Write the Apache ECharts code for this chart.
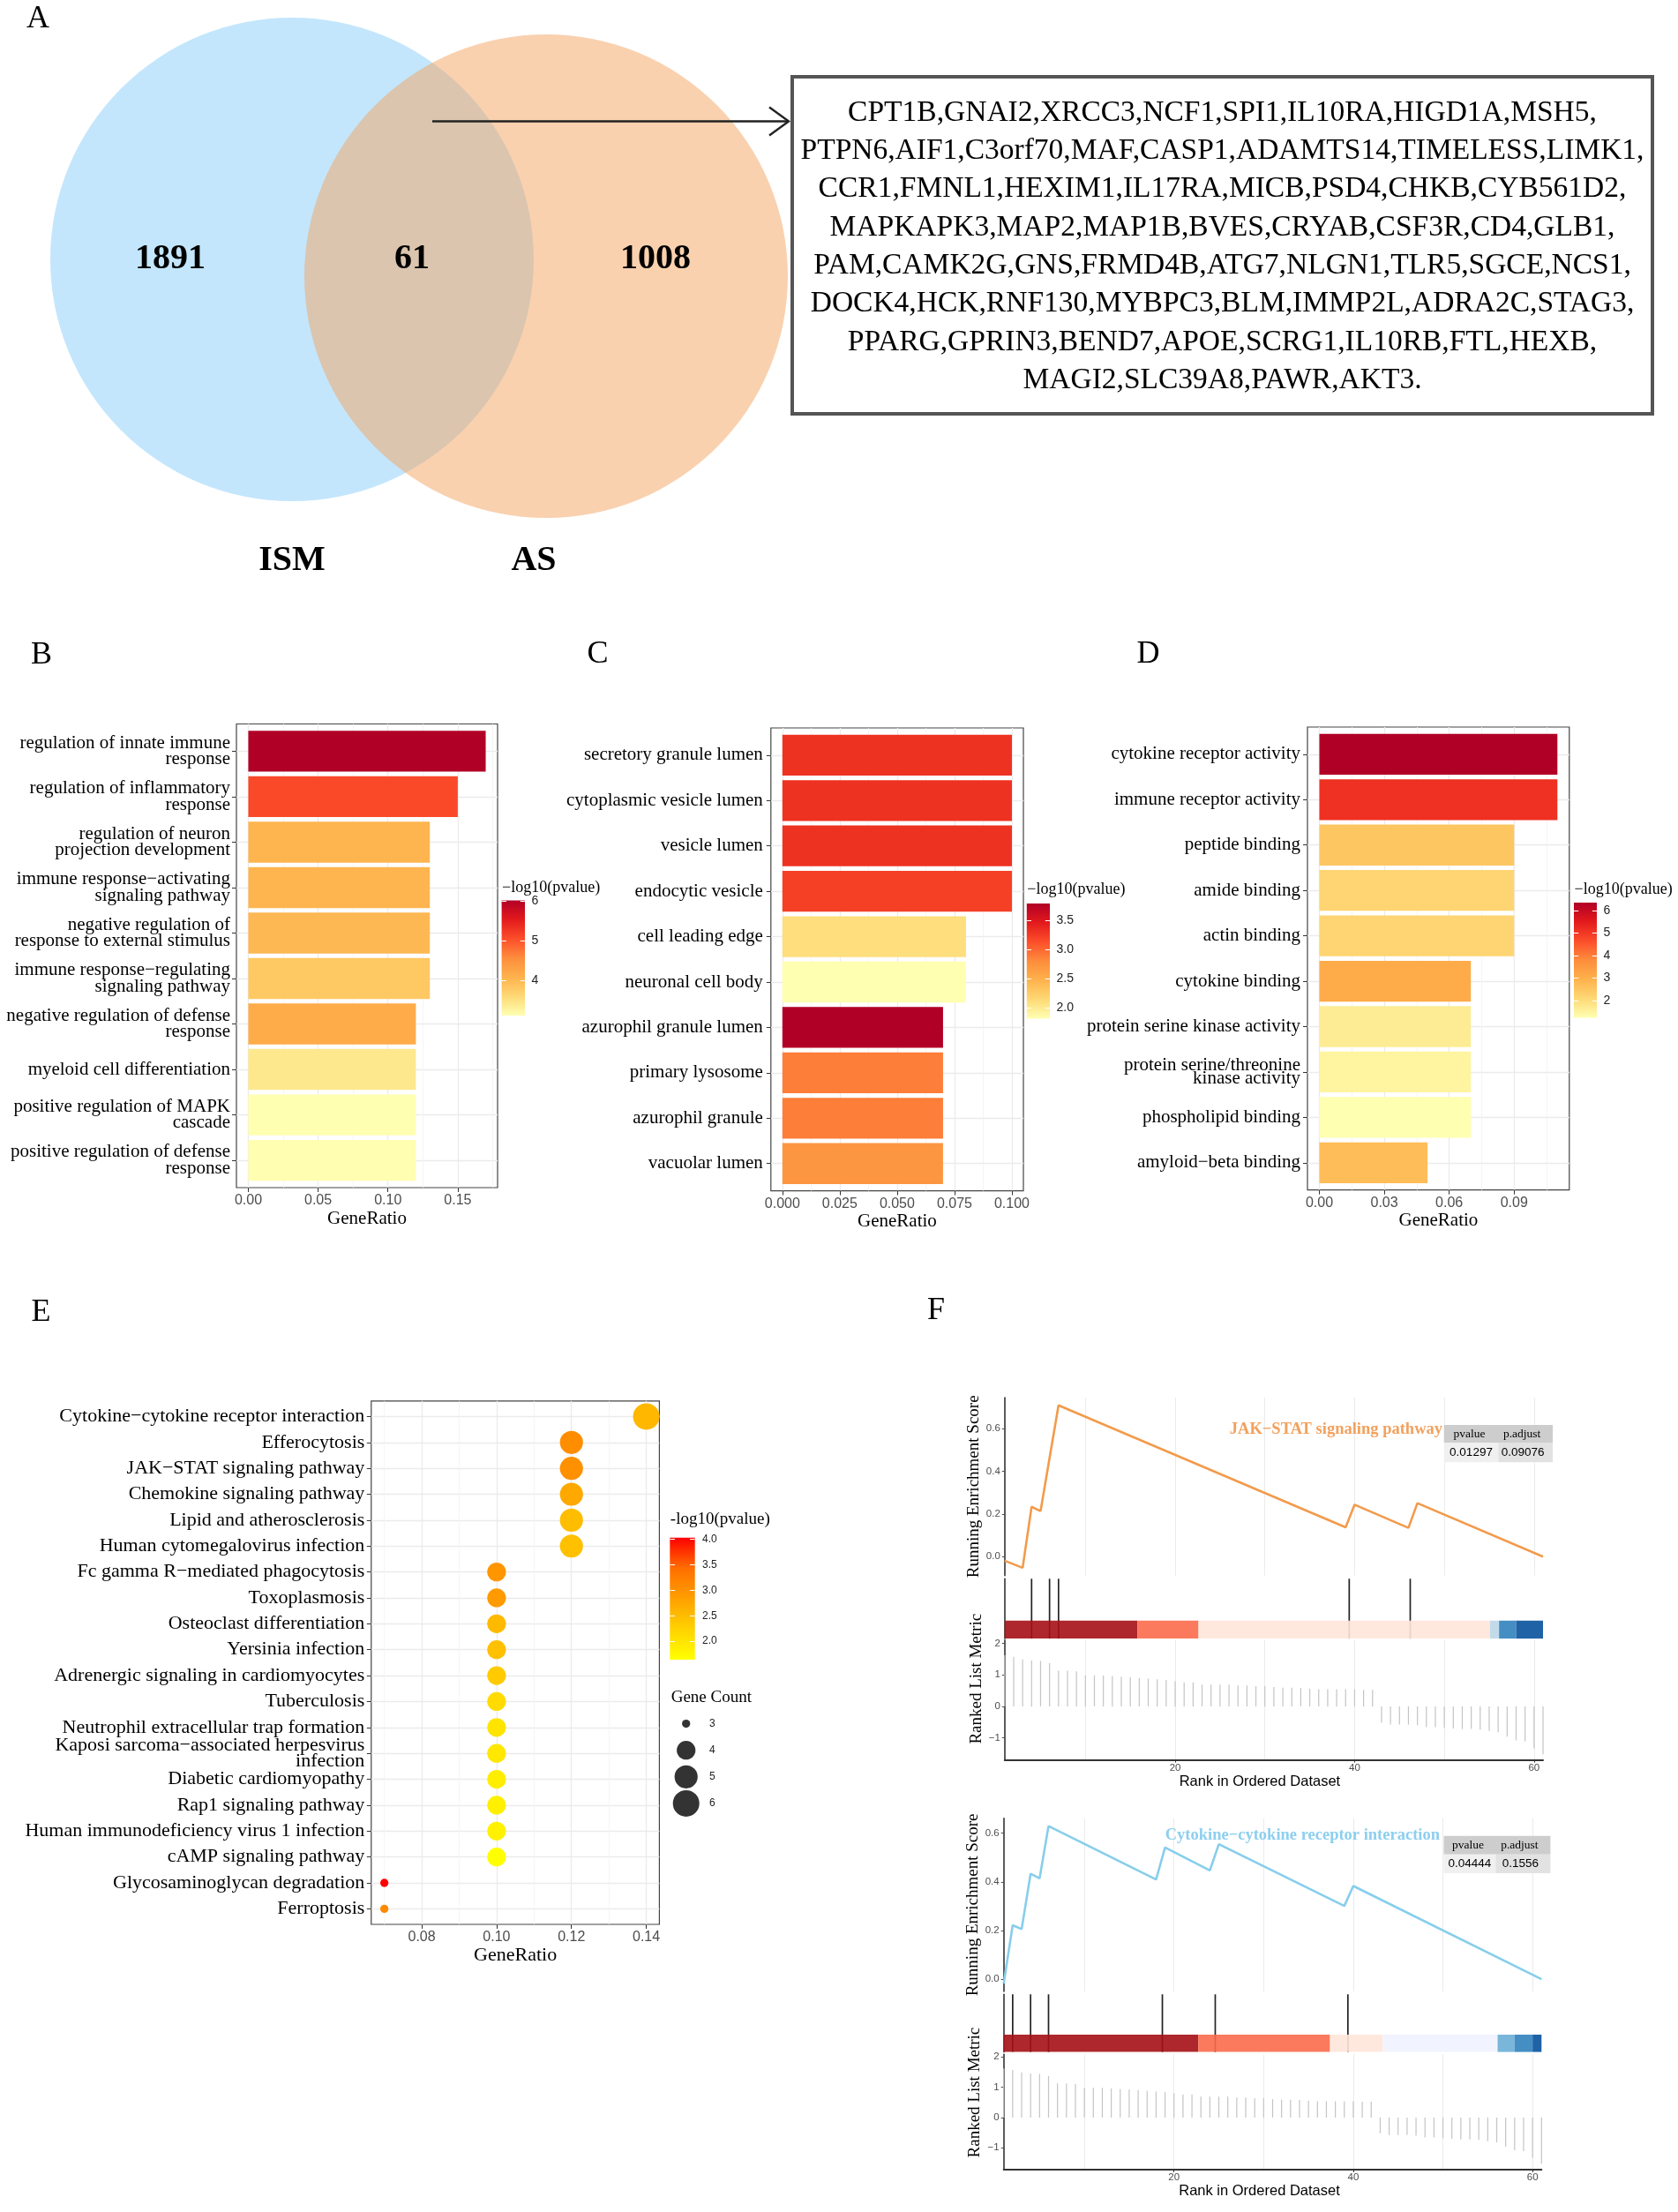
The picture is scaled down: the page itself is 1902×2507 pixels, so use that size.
<!DOCTYPE html>
<html><head><meta charset="utf-8">
<script src="https://cdn.jsdelivr.net/npm/echarts@6/dist/echarts.min.js"></script>
<style>html,body{margin:0;padding:0;background:#fff}#c{width:1902px;height:2507px}</style>
</head><body><div id="c"></div>
<script>
const SERIF = "'Liberation Serif','Times New Roman',serif";
const SANS = "'Liberation Sans',Arial,sans-serif";

// ---------- A: Venn ----------
const vennSets = ['ISM', 'AS'];
const vennCounts = [1891, 61, 1008]; // ISM only, shared, AS only
const overlapGenes = ['CPT1B','GNAI2','XRCC3','NCF1','SPI1','IL10RA','HIGD1A','MSH5',
 'PTPN6','AIF1','C3orf70','MAF','CASP1','ADAMTS14','TIMELESS','LIMK1',
 'CCR1','FMNL1','HEXIM1','IL17RA','MICB','PSD4','CHKB','CYB561D2',
 'MAPKAPK3','MAP2','MAP1B','BVES','CRYAB','CSF3R','CD4','GLB1',
 'PAM','CAMK2G','GNS','FRMD4B','ATG7','NLGN1','TLR5','SGCE','NCS1',
 'DOCK4','HCK','RNF130','MYBPC3','BLM','IMMP2L','ADRA2C','STAG3',
 'PPARG','GPRIN3','BEND7','APOE','SCRG1','IL10RB','FTL','HEXB',
 'MAGI2','SLC39A8','PAWR','AKT3'];
const geneLineLengths = [8, 8, 8, 8, 9, 8, 8, 4];

// ---------- B: GO BP ----------
const bpTerms = ['regulation of innate immune response','regulation of inflammatory response',
 'regulation of neuron projection development','immune response\u2212activating signaling pathway',
 'negative regulation of response to external stimulus','immune response\u2212regulating signaling pathway',
 'negative regulation of defense response','myeloid cell differentiation',
 'positive regulation of MAPK cascade','positive regulation of defense response'];
const bpRatio = [0.17, 0.15, 0.13, 0.13, 0.13, 0.13, 0.12, 0.12, 0.12, 0.12];
const bpLogP = [6.02, 5.10, 4.04, 4.04, 4.00, 3.81, 4.17, 3.40, 3.11, 3.12];
const bpTicks = [0, 0.05, 0.10, 0.15];
const bpLegendTicks = [4, 5, 6];

// ---------- C: GO CC ----------
const ccTerms = ['secretory granule lumen','cytoplasmic vesicle lumen','vesicle lumen','endocytic vesicle',
 'cell leading edge','neuronal cell body','azurophil granule lumen','primary lysosome','azurophil granule','vacuolar lumen'];
const ccRatio = [0.10, 0.10, 0.10, 0.10, 0.08, 0.08, 0.07, 0.07, 0.07, 0.07];
const ccLogP = [3.31, 3.31, 3.31, 3.22, 2.10, 1.81, 3.79, 2.88, 2.88, 2.72];
const ccTicks = [0, 0.025, 0.05, 0.075, 0.10];
const ccLegendTicks = [2.0, 2.5, 3.0, 3.5];

// ---------- D: GO MF ----------
const mfTerms = ['cytokine receptor activity','immune receptor activity','peptide binding','amide binding',
 'actin binding','cytokine binding','protein serine kinase activity','protein serine/threonine kinase activity',
 'phospholipid binding','amyloid\u2212beta binding'];
const mfRatio = [0.11, 0.11, 0.09, 0.09, 0.09, 0.07, 0.07, 0.07, 0.07, 0.05];
const mfLogP = [6.35, 5.12, 2.50, 2.17, 2.17, 3.10, 1.66, 1.48, 1.23, 2.69];
const mfTicks = [0, 0.03, 0.06, 0.09];
const mfLegendTicks = [2, 3, 4, 5, 6];

// ---------- E: KEGG ----------
const keggTerms = ['Cytokine\u2212cytokine receptor interaction','Efferocytosis','JAK\u2212STAT signaling pathway',
 'Chemokine signaling pathway','Lipid and atherosclerosis','Human cytomegalovirus infection',
 'Fc gamma R\u2212mediated phagocytosis','Toxoplasmosis','Osteoclast differentiation','Yersinia infection',
 'Adrenergic signaling in cardiomyocytes','Tuberculosis','Neutrophil extracellular trap formation',
 'Kaposi sarcoma\u2212associated herpesvirus infection','Diabetic cardiomyopathy','Rap1 signaling pathway',
 'Human immunodeficiency virus 1 infection','cAMP signaling pathway','Glycosaminoglycan degradation','Ferroptosis'];
const keggRatio = [0.14, 0.12, 0.12, 0.12, 0.12, 0.12, 0.10, 0.10, 0.10, 0.10, 0.10, 0.10, 0.10, 0.10, 0.10, 0.10, 0.10, 0.10, 0.07, 0.07];
const keggLogP = [2.56, 3.06, 3.03, 2.74, 2.49, 2.45, 2.95, 2.91, 2.52, 2.45, 2.32, 2.12, 2.00, 1.96, 1.86, 1.84, 1.83, 1.64, 4.03, 3.10];
const keggCount = [6, 5, 5, 5, 5, 5, 4, 4, 4, 4, 4, 4, 4, 4, 4, 4, 4, 4, 3, 3];
const keggTicks = [0.08, 0.10, 0.12, 0.14];
const keggLegendTicks = [2.0, 2.5, 3.0, 3.5, 4.0];
const countLegend = [3, 4, 5, 6];

// ---------- F: GSEA ----------
const rankMetric = [1.62,1.57,1.49,1.45,1.44,1.37,1.13,1.13,1.11,0.98,
 0.98,0.98,0.96,0.94,0.92,0.90,0.88,0.86,0.84,0.80,
 0.76,0.76,0.69,0.69,0.69,0.69,0.66,0.66,0.64,0.64,
 0.61,0.59,0.59,0.58,0.56,0.54,0.54,0.54,0.54,0.54,
 0.52,0.52,-0.52,-0.58,-0.58,-0.58,-0.60,-0.66,-0.66,-0.68,
 -0.70,-0.72,-0.72,-0.74,-0.78,-0.82,-0.96,-1.08,-1.11,-1.33,-1.52];
const rankTicks = [20, 40, 60];
const gs1Name = 'JAK\u2212STAT signaling pathway';
const gs1EsRank = [1, 3, 4, 5, 7, 39, 40, 46, 47, 61];
const gs1EsValue = [-0.019, -0.052, 0.234, 0.214, 0.710, 0.138, 0.244, 0.135, 0.251, 0.0];
const gs1Hits = [4, 6, 7, 39.4, 46.2];
const gs1BandEdges = [1, 15.8, 22.6, 55.1, 56.1, 58, 61];
const gs1BandClass = [9, 7, 5, 3, 1, 0];
const gs1Stats = ['0.01297', '0.09076'];
const gs2Name = 'Cytokine\u2212cytokine receptor interaction';
const gs2EsRank = [1, 2, 3, 4, 5, 6, 18, 19, 24, 25, 39, 40, 61];
const gs2EsValue = [-0.018, 0.222, 0.206, 0.433, 0.414, 0.629, 0.410, 0.541, 0.447, 0.555, 0.301, 0.383, 0.0];
const gs2Hits = [2, 4, 6, 18.7, 24.6, 39.4];
const gs2BandEdges = [1, 22.7, 37.4, 43.3, 56.1, 58, 60, 61];
const gs2BandClass = [9, 7, 5, 4, 2, 1, 0];
const gs2Stats = ['0.04444', '0.1556'];
const statHeader = ['pvalue', 'p.adjust'];

// ---------- styles ----------
const YLORRD = ['#FFFFB2','#FED976','#FEB24C','#FD8D3C','#FC4E2A','#E31A1C','#B10026'];
const YELRED = ['#FFFF00','#FFD200','#FFA000','#FF6E00','#FF0000'];
const RDBU10 = ['#08519C','#3182BD','#6BAED6','#BDD7E7','#EFF3FF','#FEE5D9','#FCAE91','#FB6A4A','#DE2D26','#A50F15'];

const grids = [], xAxes = [], yAxes = [], series = [], visualMaps = [], graphics = [];

function wrapLabel(s, w) {
  const words = s.split(' '); const lines = []; let cur = '';
  for (const wd of words) {
    if (!cur) cur = wd;
    else if ((cur + ' ' + wd).length <= w) cur += ' ' + wd;
    else { lines.push(cur); cur = wd; }
  }
  if (cur) lines.push(cur);
  return lines.join('\n');
}
function gText(x, y, text, o) {
  graphics.push({type: 'text', x, y, z: 100, silent: true,
    style: Object.assign({text, fill: '#000', fontFamily: SERIF, fontSize: 20, align: 'left', verticalAlign: 'middle'}, o)});
}
function addGrid(g) { grids.push(g); return grids.length - 1; }
function midpoints(t) { const r = []; const step = t[1] - t[0]; for (let i = 0; i < t.length; i++) r.push(+(t[i] - step / 2).toFixed(6), +(t[i] + step / 2).toFixed(6)); return Array.from(new Set(r)); }

function colorbar(o) {
  const gi = addGrid({left: o.left, top: o.top, width: o.width, height: o.height});
  const xi = xAxes.length;
  xAxes.push({type: 'value', gridIndex: gi, min: 0, max: 1, show: false});
  const yi = yAxes.length;
  const tickLen = o.width / 5;
  yAxes.push({type: 'value', gridIndex: gi, min: o.min, max: o.max, position: 'right', z: 10,
    axisLine: {show: false},
    axisTick: {show: true, inside: true, length: tickLen, customValues: o.ticks, lineStyle: {color: '#fff', width: 1}},
    axisLabel: {customValues: o.ticks, formatter: v => v.toFixed(o.dec), color: '#222', fontFamily: SANS, fontSize: o.fs, margin: o.margin},
    splitLine: {show: false}});
  yAxes.push({type: 'value', gridIndex: gi, min: o.min, max: o.max, position: 'left', z: 10,
    axisLine: {show: false},
    axisTick: {show: true, inside: true, length: tickLen, customValues: o.ticks, lineStyle: {color: '#fff', width: 1}},
    axisLabel: {show: false}, splitLine: {show: false}});
  const stops = o.colors.map((c, i) => ({offset: i / (o.colors.length - 1), color: c}));
  series.push({type: 'custom', xAxisIndex: xi, yAxisIndex: yi, silent: true, z: 1,
    data: [[0, o.min], [1, o.max]], encode: {x: 0, y: 1},
    renderItem: (p, api) => {
      if (p.dataIndex !== 0) return null;
      const a = api.coord([0, o.min]), b = api.coord([1, o.max]);
      return {type: 'rect', shape: {x: a[0], y: b[1], width: b[0] - a[0], height: a[1] - b[1]},
        style: {fill: {type: 'linear', x: 0, y: 1, x2: 0, y2: 0, colorStops: stops}}};
    }});
  gText(o.left + 0.5, o.titleY, o.title, {fontSize: o.titleFs});
}

function termAxis(gi, terms, o) {
  const n = terms.length; const ticks = terms.map((_, i) => i + 1);
  return {type: 'value', gridIndex: gi, inverse: true, min: 0.4, max: n + 0.6,
    axisLine: {show: false},
    axisTick: {show: true, length: 5, customValues: ticks, lineStyle: {color: '#333', width: 1}},
    axisLabel: {customValues: ticks, formatter: v => wrapLabel(terms[Math.round(v) - 1], o.wrap), color: '#000',
      fontFamily: SERIF, fontSize: o.fs, lineHeight: o.lh, margin: o.margin, align: 'right'},
    splitLine: {show: true, lineStyle: {color: '#EBEBEB', width: 1.3}}};
}
function ratioAxes(gi, o) {
  xAxes.push({type: 'value', gridIndex: gi, min: o.xmin, max: o.xmax, position: 'bottom',
    axisLine: {show: false},
    axisTick: {show: true, length: 5, customValues: o.ticks, lineStyle: {color: '#333', width: 1}},
    axisLabel: {customValues: o.ticks, formatter: v => v.toFixed(o.dec), color: '#4D4D4D', fontFamily: SANS, fontSize: 16, margin: o.labelMargin},
    splitLine: {show: true, lineStyle: {color: '#EBEBEB', width: 1.3}},
    name: 'GeneRatio', nameLocation: 'middle', nameGap: o.nameGap,
    nameTextStyle: {fontFamily: SERIF, fontSize: o.nameFs, color: '#000'}});
  xAxes.push({type: 'value', gridIndex: gi, min: o.xmin, max: o.xmax, position: 'bottom',
    axisLine: {show: false}, axisTick: {show: false, customValues: o.minor}, axisLabel: {show: false},
    splitLine: {show: true, lineStyle: {color: '#F3F3F3', width: 0.8}}});
}

function barRender(params, api) {
  const x = api.value(0), y = api.value(1);
  const a = api.coord([0, y - 0.45]), b = api.coord([x, y + 0.45]);
  return {type: 'rect', shape: {x: a[0], y: Math.min(a[1], b[1]), width: b[0] - a[0], height: Math.abs(b[1] - a[1])},
    style: {fill: api.visual('color')}};
}

function barPanel(o) {
  const gi = addGrid({left: o.left, top: o.top, width: o.width, height: o.height, show: true, borderColor: '#444', borderWidth: 1.2});
  const xi = xAxes.length;
  ratioAxes(gi, {xmin: o.xmin, xmax: o.xmax, ticks: o.ticks, minor: midpoints(o.ticks).filter(v => v > o.xmin && v < o.xmax), dec: o.dec, labelMargin: 7, nameGap: o.nameGap, nameFs: 21});
  const yi = yAxes.length;
  yAxes.push(termAxis(gi, o.terms, {wrap: 30, fs: 21, lh: o.lh, margin: o.margin}));
  const pmin = Math.min(...o.logp), pmax = Math.max(...o.logp);
  const si = series.length;
  series.push({type: 'custom', xAxisIndex: xi, yAxisIndex: yi, silent: true, z: 3,
    data: o.ratio.map((r, i) => [r, i + 1, o.logp[i]]), encode: {x: 0, y: 1}, renderItem: barRender});
  visualMaps.push({type: 'continuous', show: false, seriesIndex: si, dimension: 2, min: pmin, max: pmax, inRange: {color: YLORRD}});
  colorbar({left: o.cb[0], top: o.cb[1], width: o.cb[2], height: o.cb[3], min: pmin, max: pmax, ticks: o.legendTicks,
    dec: o.legendDec, fs: 14, margin: 7.5, colors: YLORRD, title: '\u2212log10(pvalue)', titleY: o.titleY, titleFs: 18});
}

// ---------- build B, C, D ----------
barPanel({left: 268, top: 820.5, width: 296, height: 525.5, xmin: -0.0085, xmax: 0.1785, ticks: bpTicks, dec: 2,
  terms: bpTerms, ratio: bpRatio, logp: bpLogP, lh: 18.5, margin: 7, nameGap: 24.5,
  cb: [568.6, 1020.5, 26.4, 130.5], legendTicks: bpLegendTicks, legendDec: 0, titleY: 1006});
barPanel({left: 873.8, top: 825, width: 286.2, height: 524.6, xmin: -0.005, xmax: 0.105, ticks: ccTicks, dec: 3,
  terms: ccTerms, ratio: ccRatio, logp: ccLogP, lh: 18.5, margin: 9, nameGap: 22.5,
  cb: [1163.8, 1024, 26.2, 130.5], legendTicks: ccLegendTicks, legendDec: 1, titleY: 1008});
barPanel({left: 1482, top: 824, width: 296.8, height: 524.7, xmin: -0.0055, xmax: 0.1155, ticks: mfTicks, dec: 2,
  terms: mfTerms, ratio: mfRatio, logp: mfLogP, lh: 15, margin: 8, nameGap: 22.5,
  cb: [1784, 1023, 26, 130.6], legendTicks: mfLegendTicks, legendDec: 0, titleY: 1008});

// ---------- build E ----------
const cMin = Math.min(...keggCount), cMax = Math.max(...keggCount);
const geneSize = c => 9.3 + (30 - 9.3) * Math.sqrt((c - cMin) / (cMax - cMin));
{
  const gi = addGrid({left: 420.8, top: 1587.8, width: 326.6, height: 593.2, show: true, borderColor: '#444', borderWidth: 1.2});
  const xi = xAxes.length;
  ratioAxes(gi, {xmin: 0.0665, xmax: 0.1435, ticks: keggTicks, minor: midpoints(keggTicks).filter(v => v > 0.0665 && v < 0.1435), dec: 2, labelMargin: 7, nameGap: 21, nameFs: 22});
  const yi = yAxes.length;
  yAxes.push(termAxis(gi, keggTerms, {wrap: 40, fs: 22, lh: 18, margin: 7.5}));
  const pmin = Math.min(...keggLogP), pmax = Math.max(...keggLogP);
  const si = series.length;
  series.push({type: 'scatter', xAxisIndex: xi, yAxisIndex: yi, silent: true, z: 3,
    data: keggRatio.map((r, i) => [r, i + 1, keggLogP[i], keggCount[i]]),
    symbolSize: v => geneSize(v[3]), itemStyle: {opacity: 1}});
  visualMaps.push({type: 'continuous', show: false, seriesIndex: si, dimension: 2, min: pmin, max: pmax, inRange: {color: YELRED}});
  colorbar({left: 759.3, top: 1742.7, width: 28.4, height: 138.3, min: pmin, max: pmax, ticks: keggLegendTicks, dec: 1,
    fs: 12, margin: 8.3, colors: YELRED, title: '-log10(pvalue)', titleY: 1721.7, titleFs: 19});
  // size legend
  const gs = addGrid({left: 762.5, top: 1938.5, width: 30.4, height: 120.5});
  const sx = xAxes.length;
  xAxes.push({type: 'value', gridIndex: gs, min: -1, max: 1, show: false});
  const sy = yAxes.length;
  yAxes.push({type: 'category', gridIndex: gs, inverse: true, position: 'right', data: countLegend.map(String),
    axisLine: {show: false}, axisTick: {show: false},
    axisLabel: {color: '#222', fontFamily: SANS, fontSize: 12, margin: 11}});
  series.push({type: 'scatter', xAxisIndex: sx, yAxisIndex: sy, silent: true,
    data: countLegend.map((c, i) => [0, i, c]), symbolSize: v => geneSize(v[2]), itemStyle: {color: '#000'}});
  gText(760.7, 1924.3, 'Gene Count', {fontSize: 19});
}

// ---------- build F ----------
function gseaPanel(o) {
  const W = o.width;
  // running ES
  const g1 = addGrid({left: o.left, top: o.esTop, width: W, height: o.esH});
  const x1 = xAxes.length;
  xAxes.push({type: 'value', gridIndex: g1, min: 1, max: 61, axisLine: {show: false},
    axisTick: {show: false, customValues: [10, 20, 30, 40, 50, 60]}, axisLabel: {show: false},
    splitLine: {show: true, lineStyle: {color: '#EBEBEB', width: 1}}});
  const y1 = yAxes.length;
  const esTicks = [0, 0.2, 0.4, 0.6];
  yAxes.push({type: 'value', gridIndex: g1, min: o.esMin, max: o.esMax, position: 'left',
    axisLine: {show: true, lineStyle: {color: '#333', width: 1.6}},
    axisTick: {show: true, length: 3, customValues: esTicks, lineStyle: {color: '#4D4D4D'}},
    axisLabel: {customValues: esTicks, formatter: v => v.toFixed(1), color: '#4D4D4D', fontFamily: SANS, fontSize: 11.5, margin: 5},
    splitLine: {show: false},
    name: 'Running Enrichment Score', nameLocation: 'middle', nameGap: o.nameGap,
    nameTextStyle: {fontFamily: SERIF, fontSize: 19, color: '#000'}});
  series.push({type: 'line', xAxisIndex: x1, yAxisIndex: y1, silent: true, symbol: 'none', z: 4,
    data: o.esRank.map((r, i) => [r, o.esValue[i]]), lineStyle: {color: o.color, width: 2.6}});
  // hits + band
  const g2 = addGrid({left: o.left, top: o.hitTop, width: W, height: o.hitH});
  const x2 = xAxes.length;
  xAxes.push({type: 'value', gridIndex: g2, min: 1, max: 61, show: false});
  const y2 = yAxes.length;
  yAxes.push({type: 'value', gridIndex: g2, min: 0, max: 1, position: 'left',
    axisLine: {show: true, lineStyle: {color: '#333', width: 1.6}}, axisTick: {show: false}, axisLabel: {show: false}, splitLine: {show: false}});
  series.push({type: 'custom', xAxisIndex: x2, yAxisIndex: y2, silent: true, z: 3,
    data: o.hits.map(h => [h, 0]), encode: {x: 0, y: 1},
    renderItem: (p, api) => {
      const a = api.coord([api.value(0), 0]), b = api.coord([api.value(0), 1]);
      return {type: 'line', shape: {x1: a[0], y1: a[1], x2: b[0], y2: b[1]}, style: {stroke: '#222', lineWidth: 1.7}};
    }});
  series.push({type: 'custom', xAxisIndex: x2, yAxisIndex: y2, silent: true, z: 4,
    data: o.bandClass.map((c, i) => [o.bandEdges[i], 0, o.bandEdges[i + 1], c]), encode: {x: 0, y: 1},
    renderItem: (p, api) => {
      const a = api.coord([api.value(0), 0]), b = api.coord([api.value(2), 0.3]);
      return {type: 'rect', shape: {x: a[0], y: b[1], width: b[0] - a[0], height: a[1] - b[1]},
        style: {fill: RDBU10[api.value(3)], opacity: 0.9}};
    }});
  // ranked metric
  const g3 = addGrid({left: o.left, top: o.metTop, width: W, height: o.metH});
  const x3 = xAxes.length;
  xAxes.push({type: 'value', gridIndex: g3, min: 1, max: 61, position: 'bottom',
    axisLine: {show: true, lineStyle: {color: '#333', width: 2}},
    axisTick: {show: true, length: 3, customValues: rankTicks, lineStyle: {color: '#333'}},
    axisLabel: {customValues: rankTicks, color: '#4D4D4D', fontFamily: SANS, fontSize: 11.5, margin: 3},
    splitLine: {show: true, lineStyle: {color: '#EBEBEB', width: 1}},
    name: 'Rank in Ordered Dataset', nameLocation: 'middle', nameGap: o.xNameGap,
    nameTextStyle: {fontFamily: SANS, fontSize: 16.5, color: '#000', padding: [0, o.xNameShift, 0, 0]}});
  xAxes.push({type: 'value', gridIndex: g3, min: 1, max: 61, position: 'bottom', axisLine: {show: false},
    axisTick: {show: false, customValues: [10, 30, 50]}, axisLabel: {show: false},
    splitLine: {show: true, lineStyle: {color: '#EBEBEB', width: 1}}});
  const y3 = yAxes.length;
  const metTicks = [-1, 0, 1, 2];
  yAxes.push({type: 'value', gridIndex: g3, min: o.metMin, max: o.metMax, position: 'left',
    axisLine: {show: true, lineStyle: {color: '#333', width: 1.6}},
    axisTick: {show: true, length: 3, customValues: metTicks, lineStyle: {color: '#4D4D4D'}},
    axisLabel: {customValues: metTicks, formatter: v => String(v).replace('-', '\u2212'), color: '#4D4D4D', fontFamily: SANS, fontSize: 11.5, margin: 5},
    splitLine: {show: false},
    name: 'Ranked List Metric', nameLocation: 'middle', nameGap: o.nameGap,
    nameTextStyle: {fontFamily: SERIF, fontSize: 19, color: '#000', padding: [0, 0, 0, o.metNameShift]}});
  series.push({type: 'custom', xAxisIndex: x3, yAxisIndex: y3, silent: true, z: 3,
    data: rankMetric.map((v, i) => [i + 1, v]), encode: {x: 0, y: 1},
    renderItem: (p, api) => {
      const a = api.coord([api.value(0), 0]), b = api.coord([api.value(0), api.value(1)]);
      return {type: 'line', shape: {x1: a[0], y1: a[1], x2: b[0], y2: b[1]}, style: {stroke: '#C4C4C4', lineWidth: 1.2}};
    }});
  // title + p-value table
  gText(o.titleX, o.titleY, o.name, {align: 'right', fontWeight: 'bold', fontSize: 18.5, fill: o.textColor});
  const t = o.table; // [x, y, w, hHeader, hRow, splitX]
  graphics.push({type: 'rect', z: 99, silent: true, shape: {x: t[0], y: t[1], width: t[2], height: t[3]}, style: {fill: '#CDCDCD'}});
  graphics.push({type: 'rect', z: 99, silent: true, shape: {x: t[0], y: t[1] + t[3], width: t[5] - t[0], height: t[4]}, style: {fill: '#F0F0F0'}});
  graphics.push({type: 'rect', z: 99, silent: true, shape: {x: t[5], y: t[1] + t[3], width: t[0] + t[2] - t[5], height: t[4]}, style: {fill: '#E2E2E2'}});
  const c1 = (t[0] + t[5]) / 2, c2 = (t[5] + t[0] + t[2]) / 2;
  gText(c1 - 2, t[1] + t[3] / 2, statHeader[0], {align: 'center', fontSize: 13.5});
  gText(c2 - 4, t[1] + t[3] / 2, statHeader[1], {align: 'center', fontSize: 13.5});
  gText(c1, t[1] + t[3] + t[4] / 2, o.stats[0], {align: 'center', fontSize: 13.5, fontFamily: SANS});
  gText(c2 - 3, t[1] + t[3] + t[4] / 2, o.stats[1], {align: 'center', fontSize: 13.5, fontFamily: SANS});
}

gseaPanel({left: 1138.8, width: 610.2, esTop: 1584, esH: 201.7, esMin: -0.0886, esMax: 0.746,
  hitTop: 1789.3, hitH: 67.8, metTop: 1858.9, metH: 135.7, metMin: -1.70, metMax: 2.10,
  esRank: gs1EsRank, esValue: gs1EsValue, hits: gs1Hits, bandEdges: gs1BandEdges, bandClass: gs1BandClass,
  color: '#F29B4C', textColor: '#F2A15E', name: gs1Name, titleX: 1635, titleY: 1620.7, stats: gs1Stats,
  table: [1636.7, 1615, 123.3, 20, 22.3, 1698.3], nameGap: 21, xNameGap: 14, xNameShift: 32, metNameShift: 48});
gseaPanel({left: 1137.7, width: 609.6, esTop: 2060.8, esH: 196.2, esMin: -0.050, esMax: 0.661,
  hitTop: 2260.3, hitH: 65.3, metTop: 2328.2, metH: 130.8, metMin: -1.72, metMax: 2.09,
  esRank: gs2EsRank, esValue: gs2EsValue, hits: gs2Hits, bandEdges: gs2BandEdges, bandClass: gs2BandClass,
  color: '#87CEEB', textColor: '#8DCFEF', name: gs2Name, titleX: 1632, titleY: 2080.2, stats: gs2Stats,
  table: [1636.5, 2080.8, 120.9, 21, 21.1, 1695.3], nameGap: 23, xNameGap: 13, xNameShift: 30, metNameShift: 44});

// keep every axis at its grid edge (never on the other axis's zero)
xAxes.concat(yAxes).forEach(a => { a.axisLine = Object.assign({}, a.axisLine || {}, {onZero: false}); });

// ---------- A: Venn graphics ----------
graphics.push({type: 'circle', z: 1, silent: true, shape: {cx: 331, cy: 294, r: 274}, style: {fill: 'rgba(135,206,250,0.5)'}});
graphics.push({type: 'circle', z: 2, silent: true, shape: {cx: 619, cy: 313, r: 274}, style: {fill: 'rgba(244,164,96,0.5)'}});
gText(193, 294, String(vennCounts[0]), {align: 'center', fontWeight: 'bold', fontSize: 40});
gText(467, 294, String(vennCounts[1]), {align: 'center', fontWeight: 'bold', fontSize: 40});
gText(743, 294, String(vennCounts[2]), {align: 'center', fontWeight: 'bold', fontSize: 40});
gText(331, 636, vennSets[0], {align: 'center', fontWeight: 'bold', fontSize: 40});
gText(605, 636, vennSets[1], {align: 'center', fontWeight: 'bold', fontSize: 40});
graphics.push({type: 'polyline', z: 50, silent: true, shape: {points: [[490, 137.5], [893, 137.5]]}, style: {stroke: '#222', lineWidth: 2.4, fill: null}});
graphics.push({type: 'polyline', z: 50, silent: true, shape: {points: [[872, 121.5], [894, 137.5], [872, 153.5]]}, style: {stroke: '#222', lineWidth: 2.4, fill: null}});
graphics.push({type: 'rect', z: 50, silent: true, shape: {x: 898, y: 87, width: 975, height: 382}, style: {stroke: '#555', lineWidth: 4, fill: null}});
{
  let k = 0;
  const lines = geneLineLengths.map((n, li) => {
    const seg = overlapGenes.slice(k, k + n); k += n;
    return seg.join(',') + (li === geneLineLengths.length - 1 ? '.' : ',');
  });
  gText(1385.5, 279.6, lines.join('\n'), {align: 'center', fontSize: 33.5, lineHeight: 43.3});
}
// panel letters
gText(30, 22, 'A', {fontSize: 36});
gText(35, 743, 'B', {fontSize: 36});
gText(665.5, 742, 'C', {fontSize: 36});
gText(1288.6, 742, 'D', {fontSize: 36});
gText(35.6, 1488, 'E', {fontSize: 36});
gText(1051, 1486, 'F', {fontSize: 36});

const chart = echarts.init(document.getElementById('c'), null, {renderer: 'canvas'});
chart.setOption({
  animation: false,
  backgroundColor: '#fff',
  grid: grids, xAxis: xAxes, yAxis: yAxes, series: series, visualMap: visualMaps,
  graphic: {elements: graphics}
});
</script></body></html>
